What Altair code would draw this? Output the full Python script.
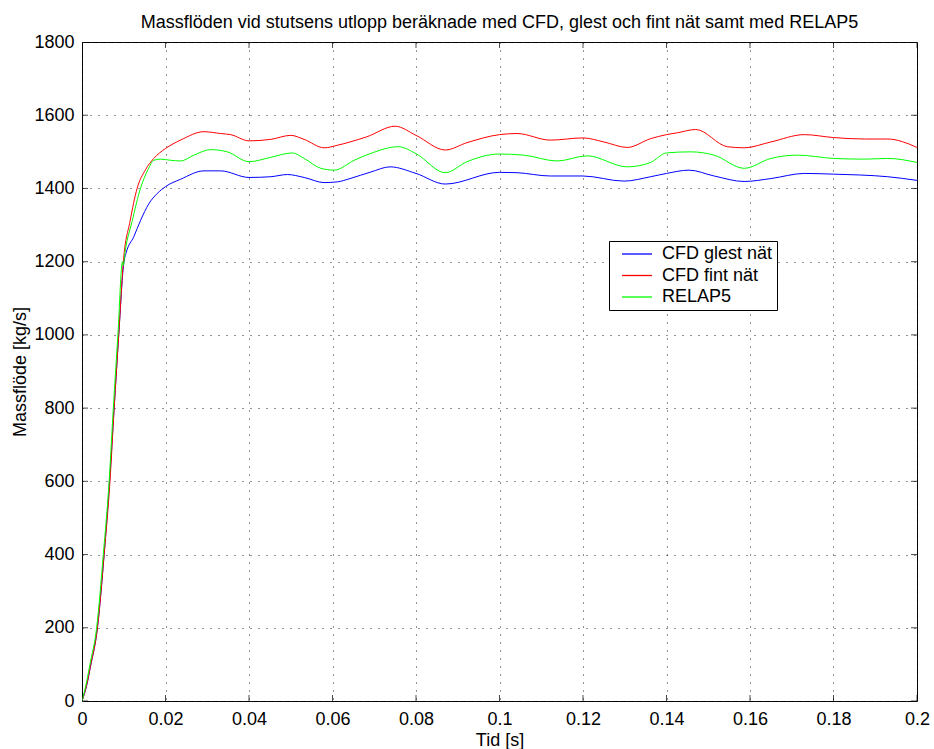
import altair as alt
import pandas as pd

FONT = "Liberation Sans"

series_names = ["CFD glest nät", "CFD fint nät", "RELAP5"]
series_colors = ["#0000ff", "#ff0000", "#00ff00"]

t_blue = [0, 0.0012, 0.002, 0.0037, 0.0053, 0.0066, 0.0077, 0.0088, 0.0100, 0.0106,
          0.0124, 0.014, 0.016, 0.018, 0.02, 0.0236, 0.0292, 0.0332, 0.04, 0.0452,
          0.0492, 0.0532, 0.058, 0.0612, 0.0642, 0.0692, 0.0738, 0.08, 0.087, 0.1,
          0.1042, 0.1122, 0.12, 0.1298, 0.1362, 0.14, 0.1454, 0.1514, 0.1586, 0.165,
          0.173, 0.18, 0.193, 0.2]
v_blue = [0, 46, 92, 200, 400, 600, 800, 1000, 1195, 1225,
          1268, 1312, 1358, 1386, 1405, 1425, 1448, 1448, 1430, 1432,
          1438, 1430, 1416, 1418, 1427, 1445, 1459, 1441, 1412, 1444,
          1443, 1434, 1434, 1420, 1432, 1441, 1450, 1434, 1419, 1427,
          1441, 1439, 1432, 1422]

t_red = [0, 0.0012, 0.002, 0.0037, 0.0053, 0.0067, 0.0077, 0.0088, 0.0099, 0.0115,
         0.0132, 0.0152, 0.0172, 0.02, 0.0236, 0.0292, 0.0332, 0.0356, 0.04, 0.0452,
         0.05, 0.0532, 0.058, 0.0612, 0.0642, 0.0682, 0.075, 0.08, 0.087, 0.0922,
         0.1, 0.1042, 0.1122, 0.12, 0.125, 0.1306, 0.1362, 0.14, 0.1426, 0.147,
         0.1546, 0.1586, 0.165, 0.173, 0.18, 0.1874, 0.193, 0.2]
v_red = [0, 48, 94, 200, 400, 600, 800, 1000, 1200, 1310,
         1400, 1451, 1482, 1509, 1532, 1555, 1550, 1547, 1530, 1534,
         1545, 1534, 1511, 1518, 1527, 1541, 1570, 1545, 1505, 1525,
         1547, 1550, 1532, 1538, 1527, 1512, 1536, 1547, 1552, 1561,
         1514, 1511, 1527, 1547, 1539, 1535, 1535, 1512]

t_green = [0, 0.0011, 0.0019, 0.0035, 0.0051, 0.0065, 0.0075, 0.0086, 0.0097, 0.0099,
           0.0103, 0.012, 0.014, 0.0158, 0.0172, 0.0188, 0.0212, 0.0236, 0.0268, 0.0308,
           0.0348, 0.04, 0.0452, 0.0504, 0.0532, 0.0572, 0.0604, 0.0652, 0.069, 0.0758,
           0.08, 0.087, 0.0922, 0.1, 0.1058, 0.1138, 0.121, 0.1306, 0.1362, 0.14,
           0.1458, 0.1514, 0.1586, 0.165, 0.1714, 0.18, 0.1874, 0.193, 0.2]
v_green = [0, 52, 100, 200, 400, 600, 800, 1000, 1200, 1190,
           1225, 1310, 1400, 1451, 1477, 1480, 1477, 1475, 1491, 1506,
           1500, 1473, 1485, 1497, 1482, 1455, 1450, 1477, 1495, 1514,
           1495, 1443, 1473, 1494, 1491, 1475, 1489, 1459, 1471, 1497,
           1500, 1491, 1455, 1482, 1491, 1482, 1480, 1482, 1471]

x_ticks = [0, 0.02, 0.04, 0.06, 0.08, 0.1, 0.12, 0.14, 0.16, 0.18, 0.2]
y_ticks = [0, 200, 400, 600, 800, 1000, 1200, 1400, 1600, 1800]

title_text = "Massflöden vid stutsens utlopp beräknade med CFD, glest och fint nät samt med RELAP5"

rows = []
for name, ts, vs in zip(series_names, [t_blue, t_red, t_green], [v_blue, v_red, v_green]):
    for i, (t, v) in enumerate(zip(ts, vs)):
        rows.append({"serie": name, "t": t, "v": v, "ordning": i})
df = pd.DataFrame(rows)

W, H = 835, 659
xscale = alt.Scale(domain=[0, 0.2], nice=False, zero=False)
yscale = alt.Scale(domain=[0, 1800], nice=False)

lines = alt.Chart(df).mark_line(strokeWidth=1, interpolate="monotone", clip=True).encode(
    x=alt.X("t:Q", scale=xscale, title="Tid [s]",
            axis=alt.Axis(values=x_ticks, format="~g", grid=True, ticks=False, domain=False,
                          labelFlush=False, labelPadding=9,
                          titleX=W / 2, titleY=44, titleAlign="center",
                          titleBaseline="alphabetic")),
    y=alt.Y("v:Q", scale=yscale, title="Massflöde [kg/s]",
            axis=alt.Axis(values=y_ticks, format="d", grid=True, ticks=False, domain=False,
                          labelFlush=False, labelPadding=8,
                          titleX=-62, titleY=H / 2, titleAngle=270, titleAlign="center",
                          titleBaseline="middle")),
    color=alt.Color("serie:N", scale=alt.Scale(domain=series_names, range=series_colors),
                    legend=alt.Legend(title=None, orient="none", legendX=527, legendY=199,
                                      direction="vertical", symbolType="M-3,0H3",
                                      symbolSize=100, symbolStrokeWidth=1.3,
                                      symbolFillColor="transparent",
                                      symbolOffset=15, labelOffset=16,
                                      labelFont=FONT, labelFontSize=18, labelColor="black",
                                      strokeColor="black", fillColor="white",
                                      padding=4, rowPadding=3.5, cornerRadius=0,
                                      labelLimit=400)),
    order="ordning:Q",
)

xt_df = pd.DataFrame({"t": x_ticks})
yt_df = pd.DataFrame({"v": y_ticks})

tick_kw = dict(size=12, thickness=1, fill="black", stroke="black", strokeWidth=0, clip=True)
tick_bottom = alt.Chart(xt_df).mark_tick(orient="vertical", **tick_kw).encode(
    x=alt.X("t:Q", scale=xscale), y=alt.datum(0))
tick_top = alt.Chart(xt_df).mark_tick(orient="vertical", **tick_kw).encode(
    x=alt.X("t:Q", scale=xscale), y=alt.datum(1800))
tick_left = alt.Chart(yt_df).mark_tick(orient="horizontal", **tick_kw).encode(
    y=alt.Y("v:Q", scale=yscale), x=alt.datum(0))
tick_right = alt.Chart(yt_df).mark_tick(orient="horizontal", **tick_kw).encode(
    y=alt.Y("v:Q", scale=yscale), x=alt.datum(0.2))

chart = alt.layer(lines, tick_bottom, tick_top, tick_left, tick_right).properties(
    width=W, height=H,
    autosize=alt.AutoSizeParams(type="none"),
    padding={"left": 82, "top": 42, "right": 17, "bottom": 48},
    background="white",
    title=alt.TitleParams(title_text, font=FONT, fontSize=18, fontWeight="normal",
                          color="black", anchor="middle", offset=1),
).configure_view(
    stroke="black", strokeWidth=1
).configure_axis(
    labelFont=FONT, labelFontSize=18, labelColor="black",
    titleFont=FONT, titleFontSize=18, titleColor="black", titleFontWeight="normal",
    gridColor="#222222", gridDash=[1, 7], gridWidth=1, gridOpacity=1,
)

chart.save("out.html", embed_options={"renderer": "svg", "actions": False})
